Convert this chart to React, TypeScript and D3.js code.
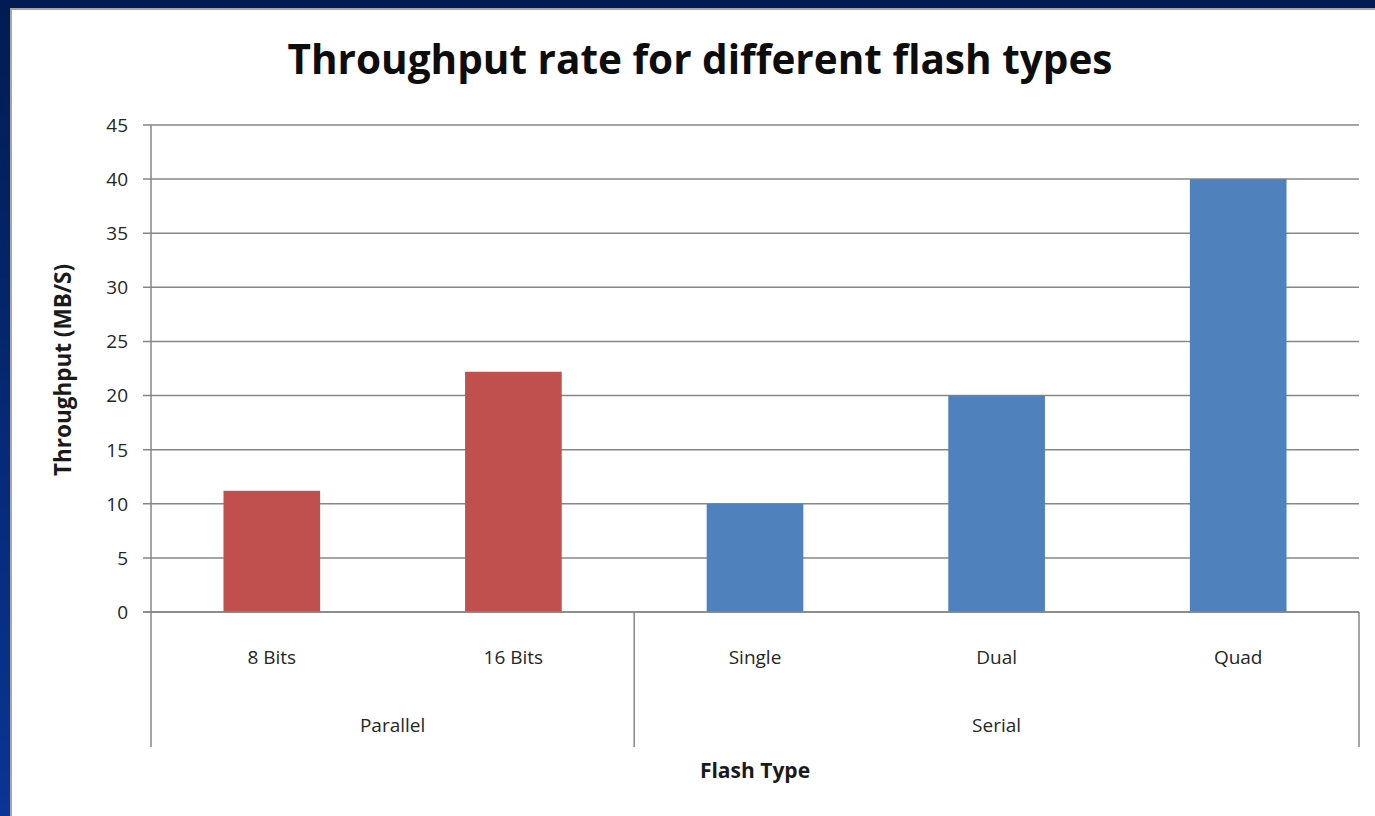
import React from "react";
import * as d3 from "d3";

const categories = ["8 Bits", "16 Bits", "Single", "Dual", "Quad"];
const groups = ["Parallel", "Parallel", "Serial", "Serial", "Serial"];
const groupNames = ["Parallel", "Serial"];
const values = [11.2, 22.2, 10, 20, 40];
const yTicks = [0, 5, 10, 15, 20, 25, 30, 35, 40, 45];
const title = "Throughput rate for different flash types";
const xTitle = "Flash Type";
const yTitle = "Throughput (MB/S)";

const W = 1375;
const H = 816;
const FONT = "'Open Sans', Lato, sans-serif";

export default function App() {
  const left = 151, right = 1359, top = 125, bottom = 612;
  const y = d3.scaleLinear().domain([0, 45]).range([bottom, top]);
  const x = d3.scaleBand().domain(categories).range([left, right]).paddingInner(0.6).paddingOuter(0.3);
  const band = d3.scaleBand().domain(categories).range([left, right]);
  const groupColor: Record<string, string> = { Parallel: "#C0504D", Serial: "#4F81BD" };
  const catLabelY = 664;
  const groupLabelY = 732;
  const axisBottom = 747;

  const groupExtents = groupNames.map((g) => {
    const idx = categories.filter((_, i) => groups[i] === g);
    const x0 = band(idx[0])!;
    const x1 = band(idx[idx.length - 1])! + band.bandwidth();
    return { g, x0, x1 };
  });
  const separators = groupExtents.map((e) => e.x1);

  return (
    <svg width={W} height={H} style={{ position: "absolute", left: 0, top: 0 }} fontFamily={FONT}>
      <defs>
        <linearGradient id="bg" x1="0" y1="0" x2="0" y2="1">
          <stop offset="0" stopColor="#001c52" />
          <stop offset="1" stopColor="#0a3595" />
        </linearGradient>
      </defs>
      <rect x={0} y={0} width={W} height={H} fill="url(#bg)" />
      <rect x={11} y={9} width={W} height={H} fill="#ffffff" stroke="#a6a6a6" strokeWidth={2} />
      <text x={700} y={74} textAnchor="middle" fontSize={40.5} fontWeight="bold" fill="#0d0d0d">
        {title}
      </text>
      {yTicks.map((t) => (
        <g key={t}>
          <line x1={left - 8} x2={right} y1={y(t)} y2={y(t)} stroke="#868686" strokeWidth={1.5} />
          <text x={128} y={y(t)} dy="0.36em" textAnchor="end" fontSize={19} fill="#262626">
            {t}
          </text>
        </g>
      ))}
      {categories.map((c, i) => (
        <rect
          key={c}
          x={x(c)}
          y={y(values[i])}
          width={x.bandwidth()}
          height={y(0) - y(values[i])}
          fill={groupColor[groups[i]]}
        />
      ))}
      <line x1={left} x2={left} y1={top} y2={axisBottom} stroke="#868686" strokeWidth={1.5} />
      {separators.map((sx, i) => (
        <line key={i} x1={sx} x2={sx} y1={bottom} y2={axisBottom} stroke="#868686" strokeWidth={1.5} />
      ))}
      <line x1={left - 8} x2={right} y1={bottom} y2={bottom} stroke="#868686" strokeWidth={1.5} />
      {categories.map((c) => (
        <text key={c} x={band(c)! + band.bandwidth() / 2} y={catLabelY} textAnchor="middle" fontSize={19} fill="#262626">
          {c}
        </text>
      ))}
      {groupExtents.map((e) => (
        <text key={e.g} x={(e.x0 + e.x1) / 2} y={groupLabelY} textAnchor="middle" fontSize={19} fill="#262626">
          {e.g}
        </text>
      ))}
      <text x={(left + right) / 2} y={778} textAnchor="middle" fontSize={21} fontWeight="bold" fill="#1a1a1a">
        {xTitle}
      </text>
      <text
        transform={`translate(71, ${370}) rotate(-90)`}
        textAnchor="middle"
        fontSize={22.5}
        fontWeight="bold"
        fill="#1a1a1a"
      >
        {yTitle}
      </text>
    </svg>
  );
}
